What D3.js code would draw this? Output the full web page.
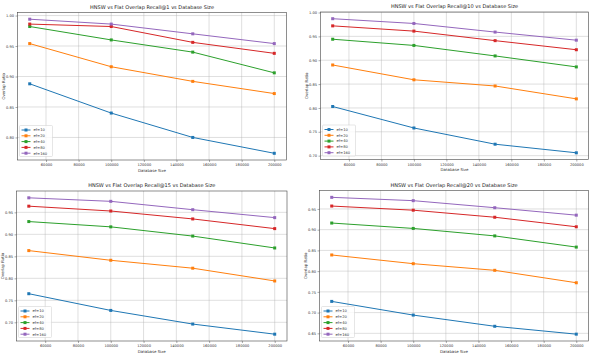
<!DOCTYPE html>
<html><head><meta charset="utf-8">
<script src="https://cdn.jsdelivr.net/npm/d3@7"></script>
<style>body{margin:0;background:#fff}svg{display:block;font-family:"DejaVu Sans",sans-serif}</style>
</head><body><svg id="c" width="600" height="357"></svg>
<script>
const sizes = [50000, 100000, 150000, 200000];
const efLabels = ["ef=10", "ef=20", "ef=40", "ef=80", "ef=160"];
const colors = ["#1f77b4", "#ff7f0e", "#2ca02c", "#d62728", "#9467bd"];
const xTicks = [60000, 80000, 100000, 120000, 140000, 160000, 180000, 200000];
const titles = [
  "HNSW vs Flat Overlap Recall@1 vs Database Size",
  "HNSW vs Flat Overlap Recall@10 vs Database Size",
  "HNSW vs Flat Overlap Recall@15 vs Database Size",
  "HNSW vs Flat Overlap Recall@20 vs Database Size"
];
const recall1 = [
  [0.888, 0.840, 0.800, 0.774],
  [0.954, 0.916, 0.892, 0.872],
  [0.982, 0.960, 0.940, 0.906],
  [0.986, 0.982, 0.956, 0.938],
  [0.994, 0.986, 0.970, 0.954]
];
const recall10 = [
  [0.803, 0.758, 0.724, 0.706],
  [0.890, 0.859, 0.846, 0.819],
  [0.944, 0.931, 0.909, 0.886],
  [0.972, 0.961, 0.941, 0.922],
  [0.987, 0.977, 0.959, 0.942]
];
const recall15 = [
  [0.765, 0.727, 0.696, 0.673],
  [0.863, 0.841, 0.823, 0.794],
  [0.929, 0.917, 0.896, 0.869],
  [0.964, 0.953, 0.935, 0.913],
  [0.983, 0.975, 0.956, 0.938]
];
const recall20 = [
  [0.727, 0.694, 0.667, 0.648],
  [0.839, 0.818, 0.802, 0.772],
  [0.916, 0.903, 0.885, 0.858],
  [0.957, 0.947, 0.930, 0.907],
  [0.978, 0.970, 0.953, 0.935]
];
const yTicks1 = [0.80, 0.85, 0.90, 0.95, 1.00];
const yTicks10 = [0.70, 0.75, 0.80, 0.85, 0.90, 0.95, 1.00];
const yTicks15 = [0.70, 0.75, 0.80, 0.85, 0.90, 0.95];
const yTicks20 = [0.65, 0.70, 0.75, 0.80, 0.85, 0.90, 0.95];

const panels = [
  {data: recall1, ticks: yTicks1, box: [17.5, 12.5, 286.5, 160]},
  {data: recall10, ticks: yTicks10, box: [320.5, 12, 588.5, 159.5]},
  {data: recall15, ticks: yTicks15, box: [16.5, 191, 287, 341]},
  {data: recall20, ticks: yTicks20, box: [319.5, 190.5, 588.5, 341]}
];

const svg = d3.select("#c");
panels.forEach((p, i) => {
  const [l, t, r, b] = p.box;
  const g = svg.append("g");
  const x = d3.scaleLinear().domain([42500, 207500]).range([l, r]);
  const all = p.data.flat();
  const mn = d3.min(all), mx = d3.max(all), pad = (mx - mn) * 0.05;
  const y = d3.scaleLinear().domain([mn - pad, mx + pad]).range([b, t]);

  // grid
  g.selectAll(".gx").data(xTicks).join("line")
    .attr("x1", d => x(d)).attr("x2", d => x(d)).attr("y1", t).attr("y2", b)
    .attr("stroke", "#b0b0b0").attr("stroke-opacity", 0.5).attr("stroke-width", 0.8);
  g.selectAll(".gy").data(p.ticks).join("line")
    .attr("y1", d => y(d)).attr("y2", d => y(d)).attr("x1", l).attr("x2", r)
    .attr("stroke", "#b0b0b0").attr("stroke-opacity", 0.5).attr("stroke-width", 0.8);

  // axes
  const xa = g.append("g").attr("transform", `translate(0,${b})`)
    .call(d3.axisBottom(x).tickValues(xTicks).tickFormat(d3.format("d")).tickSize(2).tickPadding(1.5));
  const ya = g.append("g").attr("transform", `translate(${l},0)`)
    .call(d3.axisLeft(y).tickValues(p.ticks).tickFormat(d3.format(".2f")).tickSize(2).tickPadding(1.5));
  [xa, ya].forEach(a => {
    a.select(".domain").remove();
    a.selectAll("text").attr("font-size", 3.6).attr("fill", "#333").attr("font-family", "DejaVu Sans");
    a.selectAll("line").attr("stroke", "#555").attr("stroke-width", 0.5);
  });
  g.append("rect").attr("x", l).attr("y", t).attr("width", r - l).attr("height", b - t)
    .attr("fill", "none").attr("stroke", "#444").attr("stroke-width", 0.6);

  // lines
  const line = d3.line().x((d, j) => x(sizes[j])).y(d => y(d));
  p.data.forEach((s, k) => {
    g.append("path").datum(s).attr("d", line).attr("fill", "none")
      .attr("stroke", colors[k]).attr("stroke-width", 1);
    g.selectAll(null).data(s).join("rect")
      .attr("x", (d, j) => x(sizes[j]) - 1.5).attr("y", d => y(d) - 1.5)
      .attr("width", 3).attr("height", 3).attr("fill", colors[k]);
  });

  // titles
  g.append("text").attr("x", (l + r) / 2).attr("y", t - 4).attr("text-anchor", "middle")
    .attr("font-size", 5).attr("fill", "#222").text(titles[i]);
  g.append("text").attr("x", (l + r) / 2).attr("y", b + 11.5).attr("text-anchor", "middle")
    .attr("font-size", 3.9).attr("fill", "#333").text("Database Size");
  g.append("text").attr("transform", `translate(${l - 13},${(t + b) / 2}) rotate(-90)`)
    .attr("text-anchor", "middle").attr("font-size", 3.9).attr("fill", "#333").text("Overlap Ratio");

  // legend
  const lx = l + 2, lh = 31, lw = 33, ly = b - 3.5 - lh;
  g.append("rect").attr("x", lx).attr("y", ly).attr("width", lw).attr("height", lh).attr("rx", 1)
    .attr("fill", "#fff").attr("fill-opacity", 0.8).attr("stroke", "#ccc").attr("stroke-width", 0.5);
  efLabels.forEach((name, k) => {
    const yy = ly + 4.5 + k * 5.8;
    g.append("line").attr("x1", lx + 2).attr("x2", lx + 11).attr("y1", yy).attr("y2", yy)
      .attr("stroke", colors[k]).attr("stroke-width", 1);
    g.append("rect").attr("x", lx + 6.5 - 1.5).attr("y", yy - 1.5).attr("width", 3).attr("height", 3).attr("fill", colors[k]);
    g.append("text").attr("x", lx + 14).attr("y", yy + 1.3).attr("font-size", 3.7).attr("fill", "#333").text(name);
  });
});
</script></body></html>
